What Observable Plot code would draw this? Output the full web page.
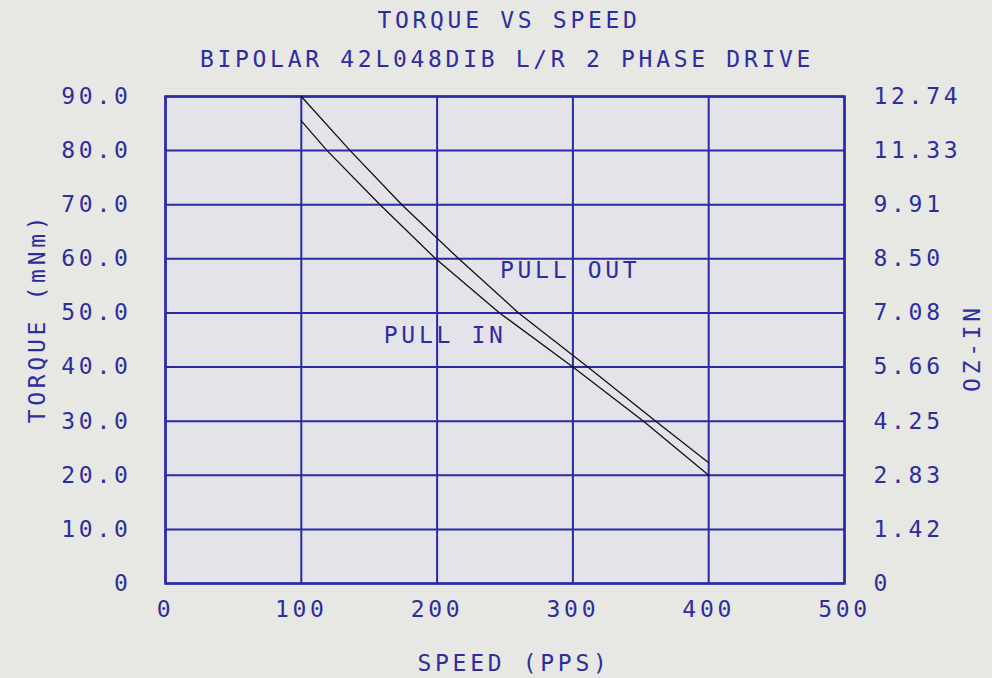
<!DOCTYPE html>
<html>
<head>
<meta charset="utf-8">
<script src="https://cdn.jsdelivr.net/npm/d3@7"></script>
<script src="https://cdn.jsdelivr.net/npm/@observablehq/plot@0.6"></script>
<style>
  html, body { margin: 0; padding: 0; background: #e7e7e3; }
  #chart { width: 992px; height: 678px; }
</style>
</head>
<body>
<div id="chart"></div>
<script>
const titleText = "TORQUE VS SPEED";
const subtitleText = "BIPOLAR 42L048DIB L/R 2 PHASE DRIVE";
const xTitle = "SPEED (PPS)";
const yTitle = "TORQUE (mNm)";
const y2Title = "OZ-IN";

const speedTicks = [0, 100, 200, 300, 400, 500];
const torqueTicks = [0, 10, 20, 30, 40, 50, 60, 70, 80, 90];
const torqueTickLabels = ["0", "10.0", "20.0", "30.0", "40.0", "50.0", "60.0", "70.0", "80.0", "90.0"];
const ozInTickLabels = ["0", "1.42", "2.83", "4.25", "5.66", "7.08", "8.50", "9.91", "11.33", "12.74"];

const pullOutSpeed  = [100, 136, 174, 216, 260, 311, 361, 400];
const pullOutTorque = [90, 80, 70, 60, 50, 40, 30, 22.3];
const pullInSpeed   = [100, 119, 158, 199, 246, 300, 352, 400];
const pullInTorque  = [85.5, 80, 70, 60, 50, 40, 30, 20];

const curveNames  = ["PULL OUT", "PULL IN"];
const labelSpeed  = [298, 206];
const labelTorque = [57.9, 45.8];

const pullOut = pullOutSpeed.map((s, i) => ({speed: s, torque: pullOutTorque[i]}));
const pullIn  = pullInSpeed.map((s, i) => ({speed: s, torque: pullInTorque[i]}));
const curveLabels = curveNames.map((n, i) => ({name: n, speed: labelSpeed[i], torque: labelTorque[i]}));

const blue = "#2a2aa6";
const textBlue = "#2d2da0";
const font = "'DejaVu Sans Mono', 'Liberation Mono', monospace";
const fs = 23;
const centered = {textAnchor: "middle", lineAnchor: "middle", fill: textBlue, fontSize: fs};

const chart = Plot.plot({
  width: 992,
  height: 678,
  marginTop: 96,
  marginBottom: 95,
  marginLeft: 165,
  marginRight: 148,
  style: {background: "#e7e7e3", fontFamily: font, fontSize: fs + "px", letterSpacing: "3.7px", color: textBlue},
  x: {domain: [0, 500]},
  y: {domain: [0, 90]},
  marks: [
    Plot.frame({fill: "#e3e3e9", stroke: null}),
    Plot.ruleX(speedTicks, {stroke: blue, strokeWidth: 2}),
    Plot.ruleY(torqueTicks, {stroke: blue, strokeWidth: 2}),
    Plot.frame({stroke: blue, strokeWidth: 2.5}),
    Plot.line(pullOut, {x: "speed", y: "torque", stroke: "#111", strokeWidth: 1.3}),
    Plot.line(pullIn, {x: "speed", y: "torque", stroke: "#111", strokeWidth: 1.3}),
    Plot.text(curveLabels, {x: "speed", y: "torque", text: "name", ...centered}),
    Plot.axisX({ticks: speedTicks, tickSize: 0, tickPadding: 17, label: null, fill: textBlue, fontSize: fs}),
    Plot.axisY({anchor: "left", ticks: torqueTicks, tickSize: 0, tickPadding: 34, label: null, fill: textBlue, fontSize: fs,
      tickFormat: d => torqueTickLabels[torqueTicks.indexOf(d)]}),
    Plot.axisY({anchor: "right", ticks: torqueTicks, tickSize: 0, tickPadding: 29, label: null, fill: textBlue, fontSize: fs,
      tickFormat: d => ozInTickLabels[torqueTicks.indexOf(d)]}),
    Plot.text([titleText], {frameAnchor: "top", dx: 4, dy: -76, ...centered}),
    Plot.text([subtitleText], {frameAnchor: "top", dx: 2, dy: -37, ...centered}),
    Plot.text([xTitle], {frameAnchor: "bottom", dx: 9, dy: 80, ...centered}),
    Plot.text([yTitle], {frameAnchor: "left", dx: -128, dy: -22, rotate: -90, ...centered}),
    Plot.text([y2Title], {frameAnchor: "right", dx: 128, dy: 8, rotate: -90, ...centered})
  ]
});
document.getElementById("chart").appendChild(chart);
</script>
</body>
</html>
